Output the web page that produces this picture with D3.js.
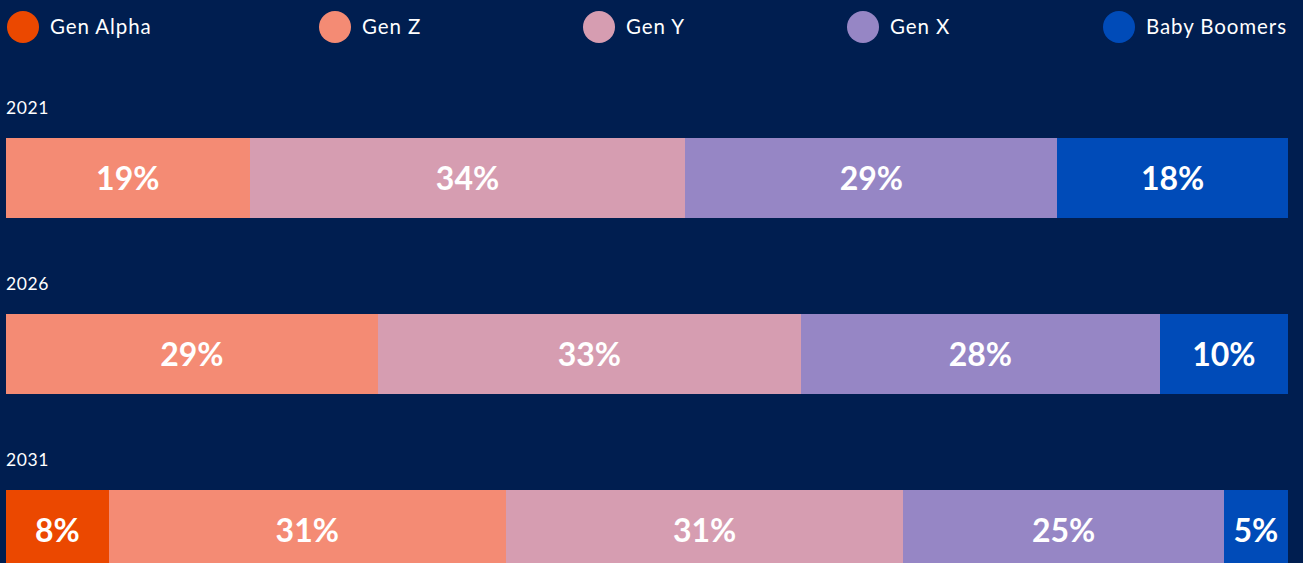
<!DOCTYPE html>
<html>
<head>
<meta charset="utf-8">
<script src="https://cdn.jsdelivr.net/npm/d3@7"></script>
<style>
  html, body { margin: 0; padding: 0; background: #001E50; overflow: hidden; }
  text { font-family: Lato, "Noto Sans", sans-serif; }
  .legend-label { fill: #fff; font-size: 20.5px; letter-spacing: 0.9px; }
  .year-label { fill: #fff; font-size: 17.5px; letter-spacing: 0.6px; }
  .bar-label { fill: #fff; font-size: 32px; font-weight: 700; }
</style>
</head>
<body>
<div id="chart"></div>
<script>
  const w = 1303;
  const h = 563;

  const generations = ['Gen Alpha', 'Gen Z', 'Gen Y', 'Gen X', 'Baby Boomers'];
  const colors = ['#EB4800', '#F48B74', '#D69DB1', '#9686C5', '#004BB8'];
  const years = ['2021', '2026', '2031'];

  // shares per generation, one value per year
  const genAlpha = [0, 0, 8];
  const genZ = [19, 29, 31];
  const genY = [34, 33, 31];
  const genX = [29, 28, 25];
  const boomers = [18, 10, 5];

  const series = [genAlpha, genZ, genY, genX, boomers];

  const rows = years.map((year, i) => {
    const row = { year: year };
    generations.forEach((g, j) => { row[g] = series[j][i]; });
    return row;
  });

  const stacked = d3.stack().keys(generations)(rows);

  const x = d3.scaleLinear().domain([0, 100]).range([6, 1288]);
  // 80px bars, 176px step
  const y = d3.scaleBand().domain(years).range([138, 570]).paddingInner(96 / 176).paddingOuter(0);
  const color = d3.scaleOrdinal().domain(generations).range(colors);

  const svg = d3.select('#chart')
    .append('svg')
      .attr('width', w)
      .attr('height', h);

  // legend
  const legendX = [23, 335, 599, 863, 1119];
  const legend = svg.append('g')
    .selectAll('g')
    .data(generations)
    .enter().append('g')
      .attr('transform', (d, i) => 'translate(' + legendX[i] + ',27)');

  legend.append('circle')
      .attr('r', 16)
      .attr('fill', d => color(d));

  legend.append('text')
      .attr('x', 27)
      .attr('dy', '0.35em')
      .classed('legend-label', true)
      .text(d => d);

  // year labels
  svg.append('g')
    .selectAll('text')
    .data(years)
    .enter().append('text')
      .attr('x', 6)
      .attr('y', d => y(d) - 24)
      .classed('year-label', true)
      .text(d => d);

  // bars
  const layers = svg.append('g')
    .selectAll('g')
    .data(stacked)
    .enter().append('g')
      .attr('fill', d => color(d.key));

  const segs = layers.selectAll('g')
    .data(d => d.filter(p => p[1] - p[0] > 0))
    .enter().append('g');

  segs.append('rect')
      .attr('x', d => Math.round(x(d[0])))
      .attr('y', d => y(d.data.year))
      .attr('width', d => Math.round(x(d[1])) - Math.round(x(d[0])))
      .attr('height', y.bandwidth())
      .style('shape-rendering', 'crispEdges');

  segs.append('text')
      .attr('x', d => (x(d[0]) + x(d[1])) / 2)
      .attr('y', d => y(d.data.year) + y.bandwidth() / 2)
      .attr('dy', '0.36em')
      .attr('text-anchor', 'middle')
      .classed('bar-label', true)
      .text(d => (d[1] - d[0]) + '%');
</script>
</body>
</html>
